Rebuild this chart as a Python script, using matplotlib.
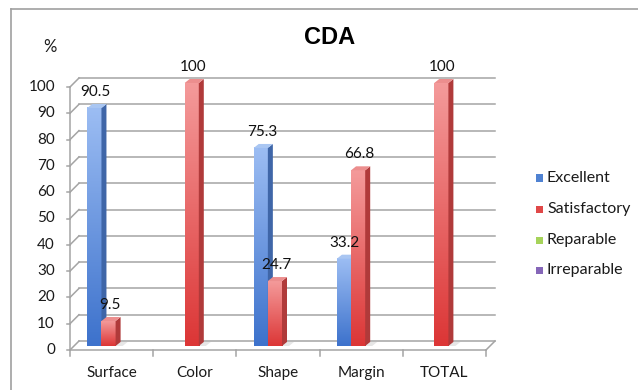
import numpy as np
import matplotlib.pyplot as plt
from matplotlib.patches import Rectangle, Polygon
from matplotlib.lines import Line2D
from matplotlib.colors import LinearSegmentedColormap

# --- datos -------------------------------------------------------------
categorias = ['Surface', 'Color', 'Shape', 'Margin', 'TOTAL']
series = ['Excellent', 'Satisfactory', 'Reparable', 'Irreparable']
excellent = [90.5, 0, 75.3, 33.2, 0]
satisfactory = [9.5, 100, 24.7, 66.8, 100]
reparable = [0, 0, 0, 0, 0]
irreparable = [0, 0, 0, 0, 0]
y_ticks = list(range(0, 101, 10))

valores = [excellent, satisfactory, reparable, irreparable]

# colores: (arriba, abajo, lateral, tapa, leyenda)
colores = [
    ('#9cbdf3', '#3d72cc', '#3f66a8', '#a9c6f2', '#4f82d2'),
    ('#f49a9a', '#dc3636', '#b03a3a', '#ec8e8e', '#e04848'),
    ('#c4e38a', '#8fbf3f', '#6f9a2f', '#cfe8a0', '#a6d35a'),
    ('#b7a0d6', '#7a5aa8', '#5e4585', '#c5b2e0', '#8566b8'),
]

plt.rcParams['font.family'] = ['Lato', 'DejaVu Sans']

W, H = 638, 390
fig = plt.figure(figsize=(W / 100, H / 100), dpi=100)

# plano frontal del grafico en pixeles
x0p, x1p = 70, 486
y0p, y1p = 350, 87
ax = fig.add_axes([x0p / W, (H - y0p) / H, (x1p - x0p) / W, (y0p - y1p) / H])
n = len(categorias)
ux = n / (x1p - x0p)
uy = 100 / (y0p - y1p)

DX, DY = 9 * ux, 9 * uy   # profundidad de la pared
FX, FY = 4 * ux, 4 * uy   # cara frontal de las barras
BX, BY = 5 * ux, 4 * uy   # profundidad de las barras

grid_c = '#a4a4a4'
for v in y_ticks:
    ax.plot([DX, n + DX], [v + DY] * 2, color=grid_c, lw=1.1, clip_on=False, zorder=1)
    ax.plot([0, DX], [v, v + DY], color=grid_c, lw=1.1, clip_on=False, zorder=1)
    ax.plot([-3 * ux, 0], [v, v], color=grid_c, lw=1.1, clip_on=False, zorder=1)
    ax.text(-15 * ux, v, str(v), ha='right', va='center', fontsize=11, color='#1a1a1a')

ax.plot([0, 0], [0, 100], color=grid_c, lw=1.1, clip_on=False, zorder=1)
ax.plot([0, n], [0, 0], color=grid_c, lw=1.1, clip_on=False, zorder=1)
ax.plot([n, n + DX], [0, DY], color=grid_c, lw=1.1, clip_on=False, zorder=1)
for k in range(n + 1):
    ax.plot([k, k], [0, -6 * uy], color=grid_c, lw=1.1, clip_on=False, zorder=1)
for i, cat in enumerate(categorias):
    ax.text(i + 0.5, -23 * uy, cat, ha='center', va='center', fontsize=11, color='#1a1a1a')

# barras pseudo 3D
w = 0.17
z = 3
for i in range(n):
    for j, vals in enumerate(valores):
        h = vals[i]
        if h <= 0:
            continue
        c_top, c_bot, c_side, c_cap, _ = colores[j]
        x = i + 0.5 - 2 * w + j * w + FX
        y = FY
        # sombra sobre el piso
        ax.add_patch(Polygon([(x + w, y), (x + w + 7 * ux, y), (x + w + BX + 7 * ux, y + BY),
                              (x + w + BX, y + BY)], closed=True, facecolor='#dcdcdc',
                             edgecolor='none', alpha=0.7, zorder=2, clip_on=False))
        cm = LinearSegmentedColormap.from_list('g', [c_bot, c_top])
        grad = np.linspace(0, 1, 100)[:, None]
        im = ax.imshow(grad, extent=(x, x + w, y, y + h), cmap=cm, aspect='auto',
                       origin='lower', zorder=z, interpolation='bilinear')
        im.set_clip_on(False)
        ax.add_patch(Polygon([(x + w, y), (x + w, y + h), (x + w + BX, y + h + BY), (x + w + BX, y + BY)],
                             closed=True, facecolor=c_side, edgecolor='none', zorder=z + 0.1, clip_on=False))
        ax.add_patch(Polygon([(x, y + h), (x + w, y + h), (x + w + BX, y + h + BY), (x + BX, y + h + BY)],
                             closed=True, facecolor=c_cap, edgecolor='none', zorder=z + 0.2, clip_on=False))
        ax.text(x + w / 2 + 1 * ux, y + h + 16 * uy, f'{h:g}', ha='center', va='center',
                fontsize=11, color='#111111', zorder=50)
        z += 1

ax.set_xlim(0, n)
ax.set_ylim(0, 100)
ax.axis('off')

# titulo y etiqueta del eje
fig.text(330 / W, (H - 37) / H, 'CDA', ha='center', va='center', fontsize=17,
         fontweight='bold', family='Liberation Sans')
fig.text(50 / W, (H - 47) / H, '%', ha='center', va='center', fontsize=12, color='#1a1a1a')

# leyenda
leg_y = [178, 209, 240, 270]
for j, nombre in enumerate(series):
    yy = leg_y[j]
    fig.patches.append(Rectangle((536 / W, (H - yy - 3.5) / H), 7 / W, 7 / H,
                                 transform=fig.transFigure, facecolor=colores[j][4], edgecolor='none'))
    fig.text(547 / W, (H - yy) / H, nombre, ha='left', va='center', fontsize=11.5, color='#1a1a1a')

# marco exterior
fig.add_artist(Line2D([11 / W, 11 / W], [0, (H - 9) / H], color='#a0a0a0', lw=1.2))
fig.add_artist(Line2D([11 / W, 1], [(H - 9) / H, (H - 9) / H], color='#a0a0a0', lw=1.2))

fig.savefig('out.png', dpi=100)
